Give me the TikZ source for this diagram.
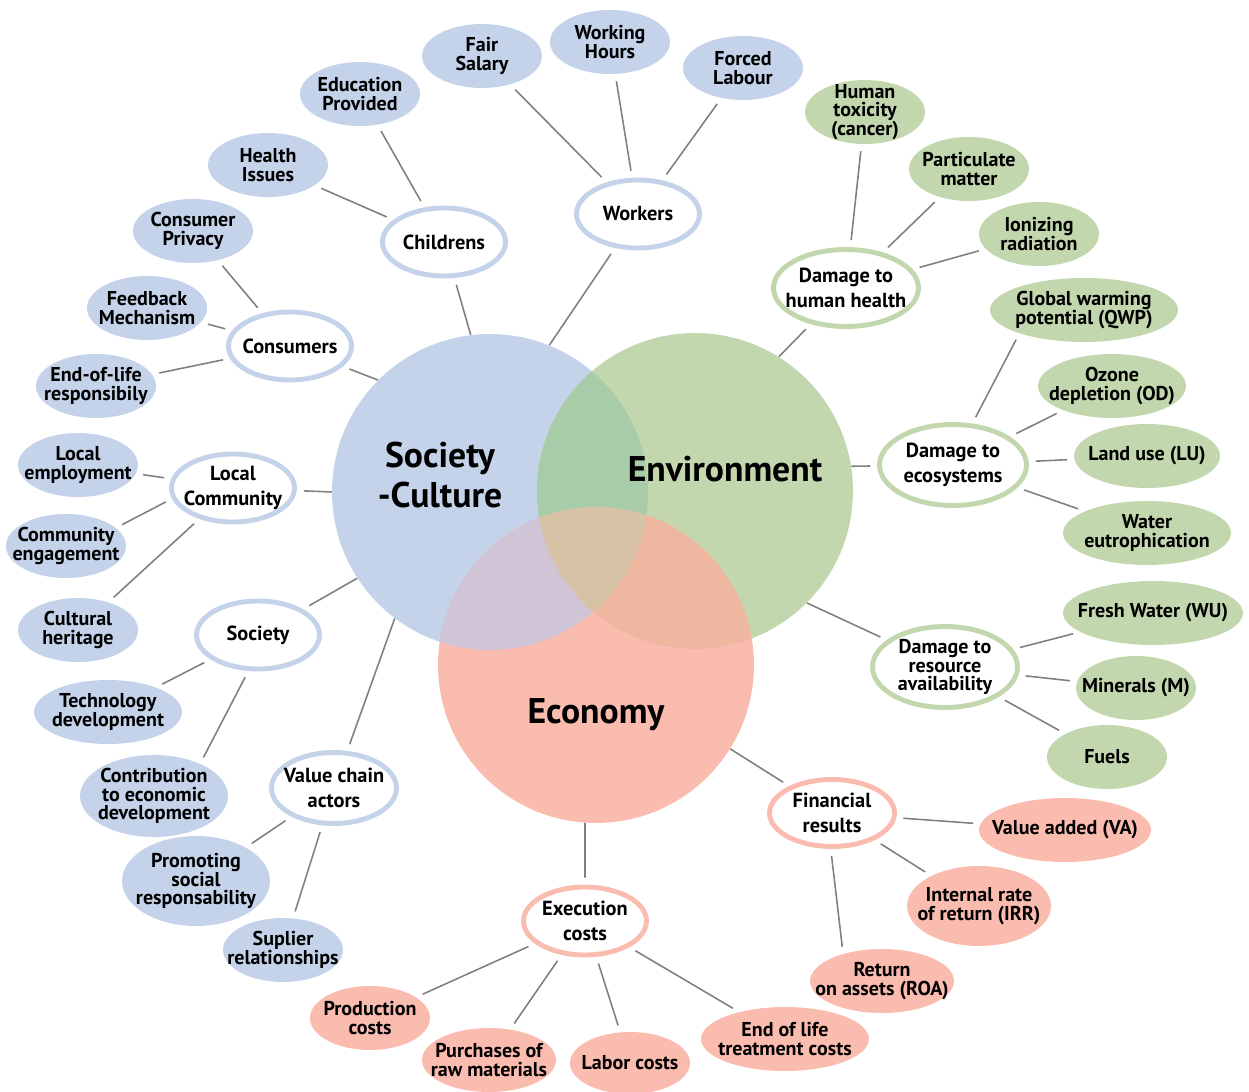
\documentclass[tikz,border=0pt]{standalone}
\usepackage{fontspec}
\setmainfont{PT Sans}
\usetikzlibrary{shapes.geometric}

\definecolor{socblue}{HTML}{C4D3EA}
\definecolor{envgreen}{HTML}{C2D7AE}
\definecolor{ecored}{HTML}{FBBCB0}
\definecolor{sgcol}{HTML}{A8CBA8}
\definecolor{secol}{HTML}{CFC5D6}
\definecolor{gecol}{HTML}{EEB8A0}
\definecolor{sgecol}{HTML}{D8C2A6}
\definecolor{linegray}{HTML}{808080}

\newcommand\leaffont{\fontsize{11.4}{10.6}\selectfont\bfseries}
\newcommand\hubfont{\fontsize{11.6}{14}\selectfont\bfseries}
\newcommand\bigrad{3.16cm}

\begin{document}
\begin{tikzpicture}[x=0.02cm, y=-0.02cm,
    leaf/.style={ellipse, inner sep=0, minimum width=2.4cm, minimum height=1.28cm},
    leafB/.style={leaf, fill=socblue},
    leafG/.style={leaf, fill=envgreen},
    leafR/.style={leaf, fill=ecored},
    hub/.style={ellipse, fill=white, line width=2.8pt, inner sep=0, minimum width=2.46cm, minimum height=1.36cm},
    hubB/.style={hub, draw=socblue},
    hubG/.style={hub, draw=envgreen},
    hubR/.style={hub, draw=ecored},
    txt/.style={align=center, font=\leaffont, inner sep=0},
    htxt/.style={align=center, font=\hubfont, inner sep=0},
    big/.style={circle, inner sep=0, minimum size=6.32cm},
    bigtxt/.style={align=center, font=\fontsize{20.3}{23}\selectfont\bfseries},
    link/.style={draw=linegray, line width=0.9pt, shorten <=4pt, shorten >=4pt}]

  \useasboundingbox (0,0) rectangle (1249,1092);

  % the three pillars
  \node [big, fill=socblue] (soc) at (490,492) {};
  \node [big, fill=envgreen] (env) at (695,491) {};
  \node [big, fill=ecored] (eco) at (596,665) {};
  \begin{scope}
    \clip (env.center) circle (\bigrad);
    \fill [gecol] (eco.center) circle (\bigrad);
  \end{scope}
  \begin{scope}
    \clip (soc.center) circle (\bigrad);
    \fill [sgcol] (env.center) circle (\bigrad);
    \fill [secol] (eco.center) circle (\bigrad);
    \clip (env.center) circle (\bigrad);
    \fill [sgecol] (eco.center) circle (\bigrad);
  \end{scope}
  \node [bigtxt] (soctxt) at (440,475) {Society\\-Culture};
  \node [bigtxt] (envtxt) at (725,469) {Environment};
  \node [bigtxt] (ecotxt) at (596,715) {Economy};

  % society hubs
  \node [hubB, label={[htxt]center:Childrens}] (child) at (444,242) {};
  \node [hubB, label={[htxt]center:Workers}] (work) at (638,214) {};
  \node [hubB, label={[htxt]center:Consumers}] (cons) at (290,346) {};
  \node [hubB, label={[htxt]center:Local\\Community}] (lc) at (233,488) {};
  \node [hubB, label={[htxt]center:Society}] (soy) at (258,635) {};
  \node [hubB, minimum width=2.5cm, minimum height=1.42cm, label={[htxt]center:Value chain\\actors}] (vca) at (334,788) {};

  % environment hubs
  \node [hubG, minimum width=2.9cm, minimum height=1.54cm, label={[htxt]center:Damage to\\human health}] (dhh) at (846,288) {};
  \node [hubG, minimum width=2.94cm, minimum height=1.62cm, label={[htxt]center:Damage to\\ecosystems}] (deco) at (953,465) {};
  \node [hubG, minimum width=2.9cm, minimum height=1.62cm, label={[txt]center:Damage to\\resource\\availability}] (dra) at (945,667) {};

  % economy hubs
  \node [hubR, minimum width=2.5cm, minimum height=1.34cm, label={[htxt]center:Financial\\results}] (fin) at (832,813) {};
  \node [hubR, label={[htxt]center:Execution\\costs}] (exe) at (585,921) {};

  % society leaves
  \node [leafB, label={[txt]center:Fair\\Salary}] (fair) at (482,56) {};
  \node [leafB, label={[txt]center:Working\\Hours}] (hours) at (610,42) {};
  \node [leafB, label={[txt]center:Forced\\Labour}] (forced) at (743,68) {};
  \node [leafB, label={[txt]center:Education\\Provided}] (edu) at (360,94) {};
  \node [leafB, label={[txt]center:Health\\Issues}] (health) at (268,165) {};
  \node [leafB, label={[txt]center:Consumer\\Privacy}] (priv) at (193,231) {};
  \node [leafB, label={[txt]center:Feedback\\Mechanism}] (feed) at (147,308) {};
  \node [leafB, label={[txt]center:End-of-life\\responsibily}] (eol) at (96,386) {};
  \node [leafB, label={[txt]center:Local\\employment}] (lemp) at (78,465) {};
  \node [leafB, label={[txt]center:Community\\engagement}] (ceng) at (66,546) {};
  \node [leafB, label={[txt]center:Cultural\\heritage}] (cult) at (78,630) {};
  \node [leafB, minimum width=2.96cm, label={[txt]center:Technology\\development}] (tech) at (108,712) {};
  \node [leafB, minimum width=2.96cm, minimum height=1.64cm, label={[txt]center:Contribution\\to economic\\development}] (contr) at (154,796) {};
  \node [leafB, minimum width=2.96cm, minimum height=1.8cm, label={[txt]center:Promoting\\social\\responsability}] (prom) at (196,881) {};
  \node [leafB, label={[txt]center:Suplier\\relationships}] (supl) at (283,950) {};

  % environment leaves
  \node [leafG, label={[txt]center:Human\\toxicity\\(cancer)}] (tox) at (865,112) {};
  \node [leafG, label={[txt]center:Particulate\\matter}] (part) at (969,169) {};
  \node [leafG, label={[txt]center:Ionizing\\radiation}] (ion) at (1039,234) {};
  \node [leafG, minimum width=3.76cm, label={[txt]center:Global warming\\potential (QWP)}] (gwp) at (1084,310) {};
  \node [leafG, minimum width=2.96cm, label={[txt]center:Ozone\\depletion (OD)}] (ozone) at (1112,386) {};
  \node [leafG, minimum width=2.92cm, label={[txt]center:Land use (LU)}] (land) at (1147,456) {};
  \node [leafG, minimum width=3.36cm, label={[txt]center:Water\\eutrophication}] (water) at (1147,533) {};
  \node [leafG, minimum width=3.6cm, label={[txt]center:Fresh Water (WU)}] (fresh) at (1153,613) {};
  \node [leafG, label={[txt]center:Minerals (M)}] (min) at (1136,688) {};
  \node [leafG, label={[txt]center:Fuels}] (fuel) at (1107,757) {};

  % economy leaves
  \node [leafR, minimum width=3.44cm, label={[txt]center:Value added (VA)}] (va) at (1065,830) {};
  \node [leafR, minimum width=2.88cm, minimum height=1.6cm, label={[txt]center:Internal rate\\of return (IRR)}] (irr) at (979,906) {};
  \node [leafR, minimum width=2.88cm, label={[txt]center:Return\\on assets (ROA)}] (roa) at (882,981) {};
  \node [leafR, minimum width=3.36cm, label={[txt]center:End of life\\treatment costs}] (eolc) at (785,1039) {};
  \node [leafR, minimum height=1.24cm, label={[txt]center:Labor costs}] (labor) at (630,1063) {};
  \node [leafR, minimum width=2.68cm, label={[txt]center:Purchases of\\raw materials}] (purch) at (489,1060) {};
  \node [leafR, label={[txt]center:Production\\costs}] (prod) at (370,1018) {};

  % hubs to pillars
  \draw [link, shorten >=0pt] (child) -- (soc.97);
  \draw [link, shorten >=0pt] (work) -- (soc.68);
  \draw [link, shorten >=0pt] (cons) -- (soc.135);
  \draw [link, shorten >=0pt] (lc) -- (soc.180);
  \draw [link, shorten >=0pt] (soy) -- (soc.213);
  \draw [link, shorten >=0pt] (vca) -- (soc.233);
  \draw [link, shorten >=0pt] (dhh) -- (env.58);
  \draw [link, shorten >=0pt] (deco) -- (env.9);
  \draw [link, shorten >=0pt] (dra) -- (env.-45);
  \draw [link, shorten >=0pt] (fin) -- (eco.-32);
  \draw [link, shorten >=0pt] (exe) -- (eco.-94);

  % leaves to hubs
  \foreach \a in {fair, hours, forced}
    \draw [link] (\a) -- (work);
  \foreach \a in {edu, health}
    \draw [link] (\a) -- (child);
  \foreach \a in {priv, feed, eol}
    \draw [link] (\a) -- (cons);
  \foreach \a in {lemp, cult}
    \draw [link] (\a) -- (lc);
  \draw [link] (ceng.20) -- (lc.190);
  \draw [link] (tech) -- (soy);
  \draw [link] (contr.35) -- (soy.255);
  \foreach \a in {prom, supl}
    \draw [link] (\a) -- (vca);
  \foreach \a in {tox, part, ion}
    \draw [link] (\a) -- (dhh);
  \draw [link] (gwp.200) -- (deco.65);
  \foreach \a in {ozone, land, water}
    \draw [link] (\a) -- (deco);
  \foreach \a in {fresh, min, fuel}
    \draw [link] (\a) -- (dra);
  \foreach \a in {va, irr}
    \draw [link] (\a) -- (fin);
  \draw [link] (roa.145) -- (fin.268);
  \foreach \a in {eolc, labor, purch, prod}
    \draw [link] (\a) -- (exe);
\end{tikzpicture}
\end{document}
